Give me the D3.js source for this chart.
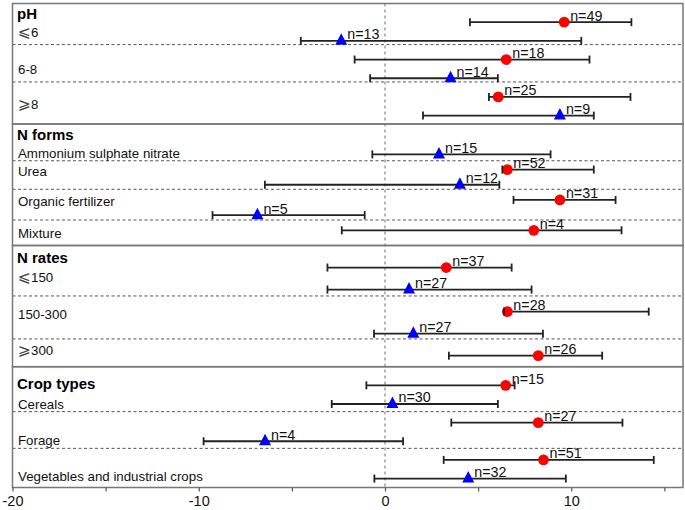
<!DOCTYPE html>
<html>
<head>
<meta charset="utf-8">
<script src="https://cdn.jsdelivr.net/npm/d3@7"></script>
<style>
  html, body { margin: 0; padding: 0; background: #fff; }
  svg { display: block; }
  text { font-family: "Liberation Sans", Arial, "DejaVu Sans", sans-serif; }
</style>
</head>
<body>
<svg id="chart" width="685" height="510"></svg>
<script>
// ---------------- DATA ----------------
const panelTitles = ["pH", "N forms", "N rates", "Crop types"];

const groupLabels = ["⩽6", "6-8", "⩾8",
  "Ammonium sulphate nitrate", "Urea", "Organic fertilizer", "Mixture",
  "⩽150", "150-300", "⩾300",
  "Cereals", "Forage", "Vegetables and industrial crops"];
const groupPanel = [0, 0, 0, 1, 1, 1, 1, 2, 2, 2, 3, 3, 3];

// one entry per plotted row (top to bottom)
const rowPanel  = [0, 0, 0, 0, 0, 0,  1, 1, 1, 1, 1, 1,  2, 2, 2, 2, 2,  3, 3, 3, 3, 3, 3];
const rowSeries = ["circle", "triangle", "circle", "triangle", "circle", "triangle",
                   "triangle", "circle", "triangle", "circle", "triangle", "circle",
                   "circle", "triangle", "circle", "triangle", "circle",
                   "circle", "triangle", "circle", "triangle", "circle", "triangle"];
const means = [9.62, -2.35, 6.51, 3.52, 6.08, 9.39,
               2.90, 6.57, 4.02, 9.39, -6.85, 7.99,
               3.29, 1.29, 6.57, 1.52, 8.23,
               6.48, 0.40, 8.23, -6.44, 8.51, 4.47];
const lows  = [4.56, -4.52, -1.63, -0.80, 5.58, 2.04,
               -0.68, 6.30, -6.45, 6.90, -9.26, -2.32,
               -3.09, -3.09, 6.39, -0.59, 3.43,
               -1.00, -2.86, 3.56, -9.74, 3.15, -0.57];
const highs = [13.23, 10.54, 10.98, 6.06, 13.18, 11.21,
               8.89, 11.21, 6.14, 12.38, -1.09, 12.70,
               6.80, 7.87, 14.16, 8.48, 11.66,
               6.96, 6.06, 12.75, 0.97, 14.43, 9.71];
const counts = [49, 13, 18, 14, 25, 9,
                15, 52, 12, 31, 5, 4,
                37, 27, 28, 27, 26,
                15, 30, 27, 4, 51, 32];

const xTicks = [-20, -15, -10, -5, 0, 5, 10, 15];
const xTickLabels = ["-20", "", "-10", "", "0", "", "10", ""];

// ---------------- LAYOUT ----------------
const left = 12.5, right = 683;
const panelEdges = [3.5, 124, 245.5, 366.7, 487.5];
// vertical domain of each panel (row i sits at i+1)
const panelDomains = [[0, 6.45], [-1, 7], [0, 5.5], [0, 6.48]];
const dashPos = [[2.2, 4.2], [1.42, 3.3, 5.32], [2.29, 4.24], [2.41, 4.38]];
const titlePos = [0.57, -0.28, 0.54, 0.93];
const labelPos = [1.52, 3.53, 5.4, 0.91, 2.12, 4.09, 6.2, 1.46, 3.11, 4.75, 2.0, 3.93, 5.86];

const colors = { circle: "#ff0000", triangle: "#0000ff" };

const svg = d3.select("#chart");
const x = d3.scaleLinear().domain([-20, 16]).range([left, right]);
const yScales = panelDomains.map((d, i) =>
  d3.scaleLinear().domain(d).range([panelEdges[i], panelEdges[i + 1]]));

// row index within panel
const rowIndex = [];
const counter = [0, 0, 0, 0];
rowPanel.forEach(p => { rowIndex.push(counter[p] + 1); counter[p]++; });
const rows = means.map((m, i) => ({
  panel: rowPanel[i], series: rowSeries[i], mean: m,
  lo: lows[i], hi: highs[i], n: counts[i], pos: rowIndex[i]
}));
const yOf = d => yScales[d.panel](d.pos);

// dashed separators
panelTitles.forEach((t, p) => {
  svg.append("g").selectAll("line").data(dashPos[p]).join("line")
    .attr("x1", left).attr("x2", right)
    .attr("y1", d => yScales[p](d)).attr("y2", d => yScales[p](d))
    .attr("stroke", "#555").attr("stroke-width", 1).attr("stroke-dasharray", "3,2.5");
});

// zero line
svg.append("line")
  .attr("x1", x(0)).attr("x2", x(0))
  .attr("y1", panelEdges[0]).attr("y2", panelEdges[4])
  .attr("stroke", "#888").attr("stroke-width", 1.2).attr("stroke-dasharray", "3,3");

// titles
svg.append("g").selectAll("text").data(panelTitles).join("text")
  .attr("x", 17)
  .attr("y", (d, i) => yScales[i](titlePos[i]) + 5.3)
  .attr("font-size", 15).attr("font-weight", "bold").attr("fill", "#000")
  .text(d => d);

// group labels (relation symbols drawn a little larger, as in the original)
const gl = svg.append("g").selectAll("text").data(groupLabels).join("text")
  .attr("x", 18)
  .attr("y", (d, i) => yScales[groupPanel[i]](labelPos[i]) + 4.7)
  .attr("font-size", 13.3).attr("fill", "#111");
gl.each(function(d) {
  const t = d3.select(this);
  if (d[0] === "⩽" || d[0] === "⩾") {
    t.append("tspan").attr("font-size", 15.5).attr("fill", "#444").text(d[0]);
    t.append("tspan").text(d.slice(1));
  } else {
    t.text(d);
  }
});

// error bar lines
svg.append("g").selectAll("line").data(rows).join("line")
  .attr("x1", d => x(d.lo)).attr("x2", d => x(d.hi))
  .attr("y1", yOf).attr("y2", yOf)
  .attr("stroke", "#222").attr("stroke-width", 1.8);

// markers
const marks = svg.append("g");
marks.selectAll("circle").data(rows.filter(d => d.series === "circle")).join("circle")
  .attr("cx", d => x(d.mean)).attr("cy", yOf).attr("r", 5.4)
  .attr("fill", colors.circle);
marks.selectAll("path").data(rows.filter(d => d.series === "triangle")).join("path")
  .attr("d", d => {
    const cx = x(d.mean), cy = yOf(d);
    return `M${cx},${cy - 7.5}L${cx + 6},${cy + 4}L${cx - 6},${cy + 4}Z`;
  })
  .attr("fill", colors.triangle);

// caps
const capData = rows.flatMap(d => [{ v: d.lo, r: d }, { v: d.hi, r: d }]);
svg.append("g").selectAll("line").data(capData).join("line")
  .attr("x1", d => x(d.v)).attr("x2", d => x(d.v))
  .attr("y1", d => yOf(d.r) - 4).attr("y2", d => yOf(d.r) + 4)
  .attr("stroke", "#222").attr("stroke-width", 1.8);

// n labels
svg.append("g").selectAll("text").data(rows).join("text")
  .attr("x", d => x(d.mean) + 6)
  .attr("y", d => yOf(d) - 1.5)
  .attr("font-size", 14.3).attr("fill", "#111")
  .text(d => "n=" + d.n);

// panel borders
svg.append("g").selectAll("rect").data(d3.range(4)).join("rect")
  .attr("x", left).attr("width", right - left)
  .attr("y", i => panelEdges[i]).attr("height", i => panelEdges[i + 1] - panelEdges[i])
  .attr("fill", "none").attr("stroke", "#777").attr("stroke-width", 1.5);

// x axis
const axis = d3.axisBottom(x).tickValues(xTicks)
  .tickFormat((d, i) => xTickLabels[i]).tickSize(4).tickPadding(4);
const ax = svg.append("g").attr("transform", `translate(0,${panelEdges[4]})`).call(axis);
ax.select(".domain").remove();
ax.selectAll(".tick line").attr("stroke", "#555").attr("stroke-width", 1.2);
ax.selectAll(".tick text").attr("font-size", 14.5).attr("fill", "#111")
  .attr("font-family", "\"Liberation Sans\", Arial, sans-serif");
</script>
</body>
</html>
